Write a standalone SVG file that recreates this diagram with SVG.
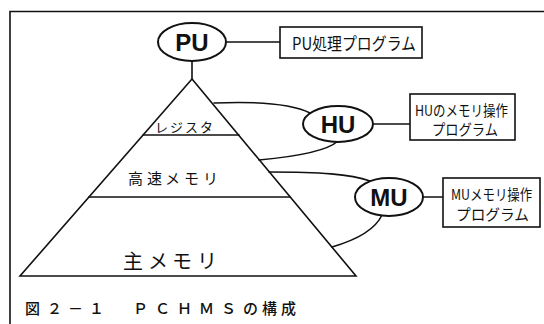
<svg xmlns="http://www.w3.org/2000/svg" width="544" height="324" viewBox="0 0 544 324">
<style>
.ln{fill:none;stroke:#111;stroke-width:1.6;stroke-linecap:round}
.box{fill:#fff;stroke:#111;stroke-width:1.6}
.ell{fill:#fff;stroke:#111;stroke-width:2}
.unit{font-family:"Liberation Sans",Arial,sans-serif;font-weight:bold;font-size:24px;fill:#111;text-anchor:middle}
.jp{font-family:"Noto Sans CJK JP",sans-serif;fill:#111}
</style>
<rect width="544" height="324" fill="#fff"/>
<path class="ln" d="M10,324 V11.5 H544"/>
<g id="connectors">
<path class="ln" d="M192,61 V79"/>
<path class="ln" d="M226,42 H280"/>
<path class="ln" d="M373,124 H410"/>
<path class="ln" d="M423,197 H443"/>
<path class="ln" d="M214,103 C262,101 292,104 310,113"/>
<path class="ln" d="M259,160 C292,157 326,152 338,141"/>
<path class="ln" d="M269,172 C320,172 350,174 370,181"/>
<path class="ln" d="M332,247 C356,240 375,230 382,215"/>
</g>
<g id="pyramid">
<path class="ln" d="M192,79 L20,276 H356 Z" stroke-linejoin="miter"/>
<path class="ln" d="M143,135 H239"/>
<path class="ln" d="M89,197 H290"/>
<text class="jp" font-size="13" y="132" x="155 170 185 200">レジスタ</text>
<text class="jp" font-size="15" y="184" x="128 147 165 184 203">高速メモリ</text>
<text class="jp" font-size="20" y="269" x="123 148 172 197">主メモリ</text>
</g>
<g id="PU">
<ellipse class="ell" cx="192" cy="42" rx="34" ry="19"/>
<text class="unit" x="192" y="51">PU</text>
</g>
<g id="PU-prog">
<rect class="box" x="280" y="27" width="142" height="31"/>
<text class="jp" font-size="17" x="292" y="50" textLength="124" lengthAdjust="spacingAndGlyphs">PU処理プログラム</text>
</g>
<g id="HU">
<ellipse class="ell" cx="338" cy="124" rx="35" ry="18"/>
<text class="unit" x="338" y="133">HU</text>
</g>
<g id="HU-prog">
<rect class="box" x="410" y="94" width="105" height="46"/>
<text class="jp" font-size="15" x="415" y="116" textLength="93" lengthAdjust="spacingAndGlyphs">HUのメモリ操作</text>
<text class="jp" font-size="15" x="432" y="135" textLength="66" lengthAdjust="spacingAndGlyphs">プログラム</text>
</g>
<g id="MU">
<ellipse class="ell" cx="389" cy="197" rx="34" ry="19"/>
<text class="unit" x="389" y="206">MU</text>
</g>
<g id="MU-prog">
<rect class="box" x="443" y="178" width="97" height="49"/>
<text class="jp" font-size="15" transform="translate(451,200) scale(0.83,1)">MUメモリ操作</text>
<text class="jp" font-size="15" x="456" y="220" textLength="73" lengthAdjust="spacingAndGlyphs">プログラム</text>
</g>
<g id="caption">
<text class="jp" font-size="15" font-weight="500" y="314" x="25 47 68 89 111 133 155 177 199 221 243 262 281">図２－１　ＰＣＨＭＳの構成</text>
</g>
</svg>
